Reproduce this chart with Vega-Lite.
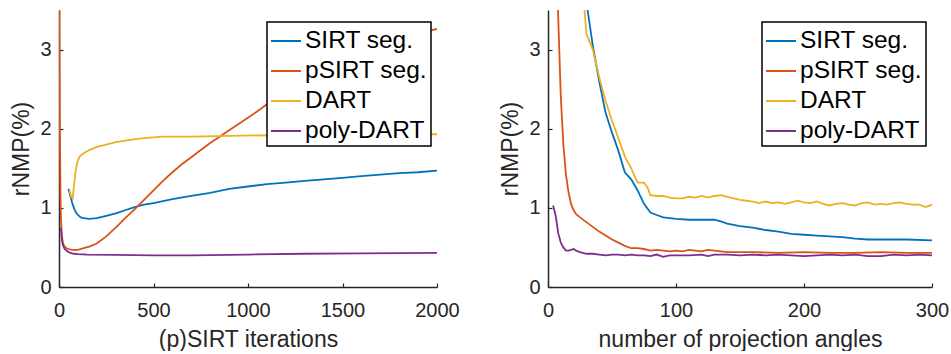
{
"$schema": "https://vega.github.io/schema/vega-lite/v6.json",
"padding": {"left": 10, "top": 10, "right": 5, "bottom": 0},
"config": {
  "font": "Liberation Sans",
  "view": {"stroke": null},
  "axis": {"domainColor": "#262626", "tickColor": "#262626", "labelColor": "#262626", "titleColor": "#262626", "grid": false, "labelFontSize": 20, "titleFontSize": 23, "titleFontWeight": "normal", "tickSize": -4, "labelPadding": 12, "domainWidth": 1.5, "tickWidth": 1.2, "titlePadding": 6, "labelFlush": false, "format": "d"},
  "axisX": {"labelPadding": 17, "titlePadding": 8},
  "legend": {"strokeColor": "#000", "fillColor": "#fff", "padding": 3, "symbolType": "stroke", "symbolSize": 900, "symbolStrokeWidth": 2, "labelFontSize": 24.5, "labelColor": "#000", "rowPadding": 2, "labelOffset": 3, "strokeWidth": 1.5}
},
"datasets": {
"iter": [
{"m":"SIRT seg.","x":50,"v":1.24},{"m":"SIRT seg.","x":60,"v":1.15},{"m":"SIRT seg.","x":70,"v":1.06},{"m":"SIRT seg.","x":80,"v":0.99},{"m":"SIRT seg.","x":90,"v":0.94},{"m":"SIRT seg.","x":100,"v":0.91},{"m":"SIRT seg.","x":115,"v":0.88},{"m":"SIRT seg.","x":130,"v":0.87},{"m":"SIRT seg.","x":160,"v":0.86},{"m":"SIRT seg.","x":200,"v":0.87},{"m":"SIRT seg.","x":250,"v":0.9},{"m":"SIRT seg.","x":300,"v":0.93},{"m":"SIRT seg.","x":350,"v":0.97},{"m":"SIRT seg.","x":400,"v":1.01},{"m":"SIRT seg.","x":450,"v":1.04},{"m":"SIRT seg.","x":500,"v":1.06},{"m":"SIRT seg.","x":600,"v":1.11},{"m":"SIRT seg.","x":700,"v":1.15},{"m":"SIRT seg.","x":800,"v":1.19},{"m":"SIRT seg.","x":900,"v":1.24},{"m":"SIRT seg.","x":1000,"v":1.27},{"m":"SIRT seg.","x":1100,"v":1.3},{"m":"SIRT seg.","x":1200,"v":1.32},{"m":"SIRT seg.","x":1300,"v":1.34},{"m":"SIRT seg.","x":1400,"v":1.36},{"m":"SIRT seg.","x":1500,"v":1.38},{"m":"SIRT seg.","x":1600,"v":1.4},{"m":"SIRT seg.","x":1700,"v":1.42},{"m":"SIRT seg.","x":1800,"v":1.44},{"m":"SIRT seg.","x":1900,"v":1.45},{"m":"SIRT seg.","x":2000,"v":1.47},
{"m":"pSIRT seg.","x":0,"v":4.5},{"m":"pSIRT seg.","x":2,"v":3.3},{"m":"pSIRT seg.","x":4,"v":2.3},{"m":"pSIRT seg.","x":6,"v":1.6},{"m":"pSIRT seg.","x":8,"v":1.15},{"m":"pSIRT seg.","x":10,"v":0.9},{"m":"pSIRT seg.","x":13,"v":0.74},{"m":"pSIRT seg.","x":16,"v":0.64},{"m":"pSIRT seg.","x":20,"v":0.57},{"m":"pSIRT seg.","x":25,"v":0.53},{"m":"pSIRT seg.","x":30,"v":0.51},{"m":"pSIRT seg.","x":40,"v":0.49},{"m":"pSIRT seg.","x":50,"v":0.48},{"m":"pSIRT seg.","x":70,"v":0.47},{"m":"pSIRT seg.","x":100,"v":0.47},{"m":"pSIRT seg.","x":130,"v":0.49},{"m":"pSIRT seg.","x":160,"v":0.51},{"m":"pSIRT seg.","x":200,"v":0.55},{"m":"pSIRT seg.","x":250,"v":0.64},{"m":"pSIRT seg.","x":300,"v":0.75},{"m":"pSIRT seg.","x":350,"v":0.87},{"m":"pSIRT seg.","x":400,"v":0.98},{"m":"pSIRT seg.","x":450,"v":1.1},{"m":"pSIRT seg.","x":500,"v":1.22},{"m":"pSIRT seg.","x":550,"v":1.34},{"m":"pSIRT seg.","x":600,"v":1.45},{"m":"pSIRT seg.","x":650,"v":1.55},{"m":"pSIRT seg.","x":700,"v":1.64},{"m":"pSIRT seg.","x":750,"v":1.73},{"m":"pSIRT seg.","x":800,"v":1.82},{"m":"pSIRT seg.","x":850,"v":1.9},{"m":"pSIRT seg.","x":900,"v":1.98},{"m":"pSIRT seg.","x":950,"v":2.06},{"m":"pSIRT seg.","x":1000,"v":2.14},{"m":"pSIRT seg.","x":1050,"v":2.22},{"m":"pSIRT seg.","x":1100,"v":2.31},{"m":"pSIRT seg.","x":1200,"v":2.47},{"m":"pSIRT seg.","x":1300,"v":2.62},{"m":"pSIRT seg.","x":1400,"v":2.76},{"m":"pSIRT seg.","x":1500,"v":2.88},{"m":"pSIRT seg.","x":1600,"v":2.99},{"m":"pSIRT seg.","x":1700,"v":3.08},{"m":"pSIRT seg.","x":1800,"v":3.15},{"m":"pSIRT seg.","x":1900,"v":3.21},{"m":"pSIRT seg.","x":1960,"v":3.24},{"m":"pSIRT seg.","x":2000,"v":3.26},
{"m":"DART","x":55,"v":1.22},{"m":"DART","x":65,"v":1.14},{"m":"DART","x":72,"v":1.12},{"m":"DART","x":80,"v":1.3},{"m":"DART","x":90,"v":1.5},{"m":"DART","x":100,"v":1.6},{"m":"DART","x":110,"v":1.65},{"m":"DART","x":130,"v":1.69},{"m":"DART","x":160,"v":1.73},{"m":"DART","x":200,"v":1.77},{"m":"DART","x":250,"v":1.8},{"m":"DART","x":300,"v":1.83},{"m":"DART","x":376,"v":1.86},{"m":"DART","x":450,"v":1.88},{"m":"DART","x":550,"v":1.9},{"m":"DART","x":700,"v":1.9},{"m":"DART","x":900,"v":1.91},{"m":"DART","x":1200,"v":1.92},{"m":"DART","x":1500,"v":1.92},{"m":"DART","x":2000,"v":1.93},
{"m":"poly-DART","x":10,"v":0.75},{"m":"poly-DART","x":15,"v":0.6},{"m":"poly-DART","x":20,"v":0.53},{"m":"poly-DART","x":30,"v":0.48},{"m":"poly-DART","x":45,"v":0.45},{"m":"poly-DART","x":60,"v":0.43},{"m":"poly-DART","x":80,"v":0.42},{"m":"poly-DART","x":100,"v":0.415},{"m":"poly-DART","x":150,"v":0.41},{"m":"poly-DART","x":300,"v":0.405},{"m":"poly-DART","x":500,"v":0.4},{"m":"poly-DART","x":700,"v":0.4},{"m":"poly-DART","x":1000,"v":0.41},{"m":"poly-DART","x":1300,"v":0.42},{"m":"poly-DART","x":1600,"v":0.425},{"m":"poly-DART","x":2000,"v":0.43}
],
"angles": [
{"m":"SIRT seg.","x":30,"v":3.6},{"m":"SIRT seg.","x":35,"v":3.05},{"m":"SIRT seg.","x":40,"v":2.6},{"m":"SIRT seg.","x":45,"v":2.2},{"m":"SIRT seg.","x":50,"v":1.95},{"m":"SIRT seg.","x":55,"v":1.72},{"m":"SIRT seg.","x":60,"v":1.45},{"m":"SIRT seg.","x":65,"v":1.36},{"m":"SIRT seg.","x":70,"v":1.22},{"m":"SIRT seg.","x":75,"v":1.05},{"m":"SIRT seg.","x":80,"v":0.94},{"m":"SIRT seg.","x":85,"v":0.91},{"m":"SIRT seg.","x":90,"v":0.88},{"m":"SIRT seg.","x":100,"v":0.86},{"m":"SIRT seg.","x":110,"v":0.85},{"m":"SIRT seg.","x":120,"v":0.85},{"m":"SIRT seg.","x":130,"v":0.85},{"m":"SIRT seg.","x":135,"v":0.83},{"m":"SIRT seg.","x":140,"v":0.8},{"m":"SIRT seg.","x":150,"v":0.77},{"m":"SIRT seg.","x":160,"v":0.75},{"m":"SIRT seg.","x":170,"v":0.72},{"m":"SIRT seg.","x":180,"v":0.7},{"m":"SIRT seg.","x":190,"v":0.67},{"m":"SIRT seg.","x":200,"v":0.66},{"m":"SIRT seg.","x":210,"v":0.65},{"m":"SIRT seg.","x":220,"v":0.64},{"m":"SIRT seg.","x":230,"v":0.63},{"m":"SIRT seg.","x":240,"v":0.61},{"m":"SIRT seg.","x":250,"v":0.6},{"m":"SIRT seg.","x":260,"v":0.6},{"m":"SIRT seg.","x":280,"v":0.6},{"m":"SIRT seg.","x":300,"v":0.59},
{"m":"pSIRT seg.","x":4,"v":6.0},{"m":"pSIRT seg.","x":6,"v":4.5},{"m":"pSIRT seg.","x":8,"v":3.4},{"m":"pSIRT seg.","x":10,"v":2.4},{"m":"pSIRT seg.","x":12,"v":1.8},{"m":"pSIRT seg.","x":14,"v":1.42},{"m":"pSIRT seg.","x":16,"v":1.2},{"m":"pSIRT seg.","x":18,"v":1.05},{"m":"pSIRT seg.","x":20,"v":0.97},{"m":"pSIRT seg.","x":22,"v":0.92},{"m":"pSIRT seg.","x":25,"v":0.88},{"m":"pSIRT seg.","x":30,"v":0.82},{"m":"pSIRT seg.","x":35,"v":0.76},{"m":"pSIRT seg.","x":40,"v":0.7},{"m":"pSIRT seg.","x":45,"v":0.65},{"m":"pSIRT seg.","x":50,"v":0.6},{"m":"pSIRT seg.","x":55,"v":0.56},{"m":"pSIRT seg.","x":60,"v":0.52},{"m":"pSIRT seg.","x":65,"v":0.49},{"m":"pSIRT seg.","x":70,"v":0.49},{"m":"pSIRT seg.","x":75,"v":0.48},{"m":"pSIRT seg.","x":80,"v":0.46},{"m":"pSIRT seg.","x":85,"v":0.47},{"m":"pSIRT seg.","x":90,"v":0.46},{"m":"pSIRT seg.","x":95,"v":0.45},{"m":"pSIRT seg.","x":100,"v":0.46},{"m":"pSIRT seg.","x":105,"v":0.45},{"m":"pSIRT seg.","x":110,"v":0.47},{"m":"pSIRT seg.","x":115,"v":0.46},{"m":"pSIRT seg.","x":120,"v":0.45},{"m":"pSIRT seg.","x":125,"v":0.47},{"m":"pSIRT seg.","x":130,"v":0.46},{"m":"pSIRT seg.","x":135,"v":0.45},{"m":"pSIRT seg.","x":140,"v":0.44},{"m":"pSIRT seg.","x":160,"v":0.44},{"m":"pSIRT seg.","x":180,"v":0.43},{"m":"pSIRT seg.","x":200,"v":0.44},{"m":"pSIRT seg.","x":220,"v":0.43},{"m":"pSIRT seg.","x":240,"v":0.43},{"m":"pSIRT seg.","x":260,"v":0.44},{"m":"pSIRT seg.","x":280,"v":0.43},{"m":"pSIRT seg.","x":300,"v":0.43},
{"m":"DART","x":28,"v":3.6},{"m":"DART","x":30,"v":3.2},{"m":"DART","x":35,"v":3.0},{"m":"DART","x":40,"v":2.65},{"m":"DART","x":45,"v":2.35},{"m":"DART","x":50,"v":2.1},{"m":"DART","x":55,"v":1.88},{"m":"DART","x":60,"v":1.65},{"m":"DART","x":65,"v":1.5},{"m":"DART","x":70,"v":1.32},{"m":"DART","x":75,"v":1.32},{"m":"DART","x":78,"v":1.25},{"m":"DART","x":80,"v":1.16},{"m":"DART","x":85,"v":1.15},{"m":"DART","x":90,"v":1.15},{"m":"DART","x":95,"v":1.13},{"m":"DART","x":100,"v":1.12},{"m":"DART","x":105,"v":1.12},{"m":"DART","x":110,"v":1.14},{"m":"DART","x":115,"v":1.13},{"m":"DART","x":120,"v":1.15},{"m":"DART","x":125,"v":1.13},{"m":"DART","x":130,"v":1.15},{"m":"DART","x":135,"v":1.16},{"m":"DART","x":140,"v":1.14},{"m":"DART","x":145,"v":1.12},{"m":"DART","x":150,"v":1.1},{"m":"DART","x":155,"v":1.09},{"m":"DART","x":160,"v":1.08},{"m":"DART","x":165,"v":1.06},{"m":"DART","x":170,"v":1.08},{"m":"DART","x":175,"v":1.06},{"m":"DART","x":180,"v":1.07},{"m":"DART","x":185,"v":1.05},{"m":"DART","x":190,"v":1.07},{"m":"DART","x":195,"v":1.09},{"m":"DART","x":200,"v":1.07},{"m":"DART","x":205,"v":1.06},{"m":"DART","x":210,"v":1.08},{"m":"DART","x":215,"v":1.05},{"m":"DART","x":220,"v":1.03},{"m":"DART","x":225,"v":1.05},{"m":"DART","x":230,"v":1.06},{"m":"DART","x":235,"v":1.04},{"m":"DART","x":240,"v":1.03},{"m":"DART","x":245,"v":1.06},{"m":"DART","x":250,"v":1.07},{"m":"DART","x":255,"v":1.04},{"m":"DART","x":260,"v":1.05},{"m":"DART","x":265,"v":1.04},{"m":"DART","x":270,"v":1.06},{"m":"DART","x":275,"v":1.07},{"m":"DART","x":280,"v":1.05},{"m":"DART","x":285,"v":1.04},{"m":"DART","x":290,"v":1.04},{"m":"DART","x":295,"v":1.01},{"m":"DART","x":300,"v":1.04},
{"m":"poly-DART","x":4,"v":1.03},{"m":"poly-DART","x":6,"v":0.9},{"m":"poly-DART","x":8,"v":0.68},{"m":"poly-DART","x":10,"v":0.56},{"m":"poly-DART","x":12,"v":0.5},{"m":"poly-DART","x":14,"v":0.46},{"m":"poly-DART","x":16,"v":0.46},{"m":"poly-DART","x":18,"v":0.47},{"m":"poly-DART","x":20,"v":0.48},{"m":"poly-DART","x":22,"v":0.46},{"m":"poly-DART","x":25,"v":0.44},{"m":"poly-DART","x":30,"v":0.42},{"m":"poly-DART","x":35,"v":0.42},{"m":"poly-DART","x":40,"v":0.41},{"m":"poly-DART","x":45,"v":0.4},{"m":"poly-DART","x":50,"v":0.41},{"m":"poly-DART","x":55,"v":0.41},{"m":"poly-DART","x":60,"v":0.4},{"m":"poly-DART","x":65,"v":0.41},{"m":"poly-DART","x":70,"v":0.4},{"m":"poly-DART","x":75,"v":0.4},{"m":"poly-DART","x":80,"v":0.39},{"m":"poly-DART","x":85,"v":0.41},{"m":"poly-DART","x":90,"v":0.38},{"m":"poly-DART","x":95,"v":0.4},{"m":"poly-DART","x":100,"v":0.4},{"m":"poly-DART","x":110,"v":0.4},{"m":"poly-DART","x":120,"v":0.41},{"m":"poly-DART","x":125,"v":0.39},{"m":"poly-DART","x":130,"v":0.41},{"m":"poly-DART","x":140,"v":0.41},{"m":"poly-DART","x":150,"v":0.4},{"m":"poly-DART","x":160,"v":0.41},{"m":"poly-DART","x":170,"v":0.4},{"m":"poly-DART","x":180,"v":0.41},{"m":"poly-DART","x":190,"v":0.4},{"m":"poly-DART","x":200,"v":0.39},{"m":"poly-DART","x":210,"v":0.4},{"m":"poly-DART","x":220,"v":0.41},{"m":"poly-DART","x":230,"v":0.4},{"m":"poly-DART","x":240,"v":0.41},{"m":"poly-DART","x":250,"v":0.39},{"m":"poly-DART","x":260,"v":0.39},{"m":"poly-DART","x":270,"v":0.41},{"m":"poly-DART","x":280,"v":0.4},{"m":"poly-DART","x":290,"v":0.41},{"m":"poly-DART","x":300,"v":0.4}
]
},
"spacing": 39,
"resolve": {"scale": {"color": "independent"}, "legend": {"color": "independent"}},
"hconcat": [
{
  "width": 378, "height": 277,
  "data": {"name": "iter"},
  "mark": {"type": "line", "clip": true, "strokeWidth": 1.8},
  "encoding": {
    "x": {"field": "x", "type": "quantitative", "scale": {"domain": [0, 2000], "nice": false}, "axis": {"values": [0, 500, 1000, 1500, 2000], "title": "(p)SIRT iterations"}},
    "y": {"field": "v", "type": "quantitative", "scale": {"domain": [0, 3.5], "nice": false}, "axis": {"values": [0, 1, 2, 3], "title": "rNMP(%)"}},
    "color": {"field": "m", "type": "nominal", "scale": {"domain": ["SIRT seg.", "pSIRT seg.", "DART", "poly-DART"], "range": ["#0072BD", "#D95319", "#EDB120", "#7E2F8E"]}, "legend": {"orient": "none", "legendX": 208, "legendY": 12, "title": null}}
  }
},
{
  "width": 384, "height": 277,
  "data": {"name": "angles"},
  "mark": {"type": "line", "clip": true, "strokeWidth": 1.8},
  "encoding": {
    "x": {"field": "x", "type": "quantitative", "scale": {"domain": [0, 300], "nice": false}, "axis": {"values": [0, 100, 200, 300], "title": "number of projection angles"}},
    "y": {"field": "v", "type": "quantitative", "scale": {"domain": [0, 3.5], "nice": false}, "axis": {"values": [0, 1, 2, 3], "title": "rNMP(%)"}},
    "color": {"field": "m", "type": "nominal", "scale": {"domain": ["SIRT seg.", "pSIRT seg.", "DART", "poly-DART"], "range": ["#0072BD", "#D95319", "#EDB120", "#7E2F8E"]}, "legend": {"orient": "none", "legendX": 214, "legendY": 12, "title": null}}
  }
}
]
}
